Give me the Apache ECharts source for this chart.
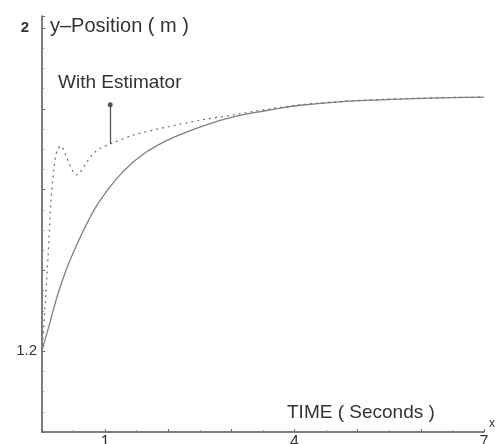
<!DOCTYPE html>
<html>
<head>
<meta charset="utf-8">
<script src="https://cdn.jsdelivr.net/npm/echarts@6/dist/echarts.min.js"></script>
<style>html,body{margin:0;padding:0;background:#fff;}#c{width:496px;height:444px;}</style>
</head>
<body>
<div id="c"></div>
<script>
// Time (seconds) and y-position (m)
var tSolid = [0, 0.06, 0.11, 0.22, 0.32, 0.43, 0.54, 0.65, 0.73, 0.82, 0.92, 1.17, 1.44, 1.70, 1.98, 2.25, 2.50, 3.03, 3.56, 4.09, 4.88, 5.67, 6.46, 7.0];
var ySolid = [1.2, 1.235, 1.262, 1.325, 1.374, 1.420, 1.460, 1.497, 1.522, 1.548, 1.573, 1.625, 1.668, 1.698, 1.722, 1.740, 1.755, 1.780, 1.796, 1.809, 1.819, 1.824, 1.828, 1.829];

var tEst = [0, 0.06, 0.11, 0.14, 0.19, 0.24, 0.30, 0.38, 0.46, 0.54, 0.60, 0.70, 0.81, 0.92, 1.08, 1.44, 1.98, 2.50, 3.03, 3.56, 4.09, 4.88, 5.67, 6.46, 7.0];
var yEst = [1.2, 1.339, 1.475, 1.569, 1.653, 1.698, 1.708, 1.684, 1.654, 1.637, 1.642, 1.666, 1.689, 1.702, 1.713, 1.735, 1.755, 1.772, 1.785, 1.799, 1.810, 1.820, 1.825, 1.828, 1.829];

// annotation pointer: time, from y, to y
var markerT = 1.08;
var markerY = [1.713, 1.81];

var xTickLabels = ['1', '4', '7'];
var yTickLabels = ['1.2', '2'];

var labelX = 'TIME ( Seconds )';
var labelY = 'y\u2013Position ( m )';
var labelEst = 'With Estimator';

function pairs(a, b) { return a.map(function (v, i) { return [v, b[i]]; }); }

var chart = echarts.init(document.getElementById('c'), null, {renderer: 'canvas'});
var font = 'Liberation Sans, Arial, sans-serif';
chart.setOption({
  animation: false,
  backgroundColor: '#fff',
  grid: {left: 42, right: 12, top: 16, bottom: 12, containLabel: false, outerBoundsMode: 'none'},
  xAxis: {
    type: 'value', min: 0, max: 7, interval: 1,
    axisLine: {lineStyle: {color: '#555', width: 1.5}},
    axisTick: {show: true, inside: true, length: 3, lineStyle: {color: '#666'}},
    minorTick: {show: true, splitNumber: 2, length: 2, lineStyle: {color: '#888'}},
    splitLine: {show: false},
    axisLabel: {
      margin: 3, color: '#333', fontFamily: font, fontSize: 16,
      formatter: function (v) { var s = String(Math.round(v)); return xTickLabels.indexOf(s) >= 0 ? s : ''; }
    }
  },
  yAxis: {
    type: 'value', min: 1, max: 2.03, interval: 0.2,
    axisLine: {show: true, lineStyle: {color: '#555', width: 1.5}},
    axisTick: {show: true, inside: true, length: 3, lineStyle: {color: '#666'}},
    minorTick: {show: true, splitNumber: 4, length: 2, lineStyle: {color: '#888'}},
    splitLine: {show: false},
    axisLabel: {
      margin: 5, color: '#333', fontFamily: font, fontSize: 15,
      formatter: function (v) {
        var s = String(Math.round(v * 10) / 10);
        if (yTickLabels.indexOf(s) < 0) return '';
        return s === '2' ? '{b|' + s + '}' : s;
      },
      rich: {b: {fontFamily: font, fontSize: 15, fontWeight: 'bold', color: '#333', padding: [0, 8, 0, 0]}}
    }
  },
  series: [
    {
      type: 'line', data: pairs(tSolid, ySolid), smooth: true, showSymbol: false,
      lineStyle: {color: '#808080', width: 1.3}
    },
    {
      type: 'line', data: pairs(tEst, yEst), smooth: 0.3, showSymbol: false,
      lineStyle: {color: '#777', width: 1.3, type: [2, 4]},
      markLine: {
        silent: true, symbol: ['none', 'circle'], symbolSize: 5,
        label: {show: false},
        lineStyle: {color: '#555', width: 1.3, type: 'solid'},
        data: [[{coord: [markerT, markerY[0]]}, {coord: [markerT, markerY[1]]}]]
      }
    }
  ],
  graphic: [
    {type: 'text', left: 50, top: 16, style: {text: labelY, font: '20px ' + font, fill: '#333'}},
    {type: 'text', left: 58, top: 73, style: {text: labelEst, font: '19px ' + font, fill: '#333'}},
    {type: 'text', left: 287, top: 403, style: {text: labelX, font: '19px ' + font, fill: '#333'}},
    {type: 'text', left: 489, top: 418, style: {text: 'x', font: '12px ' + font, fill: '#333'}}
  ]
});
</script>
</body>
</html>
